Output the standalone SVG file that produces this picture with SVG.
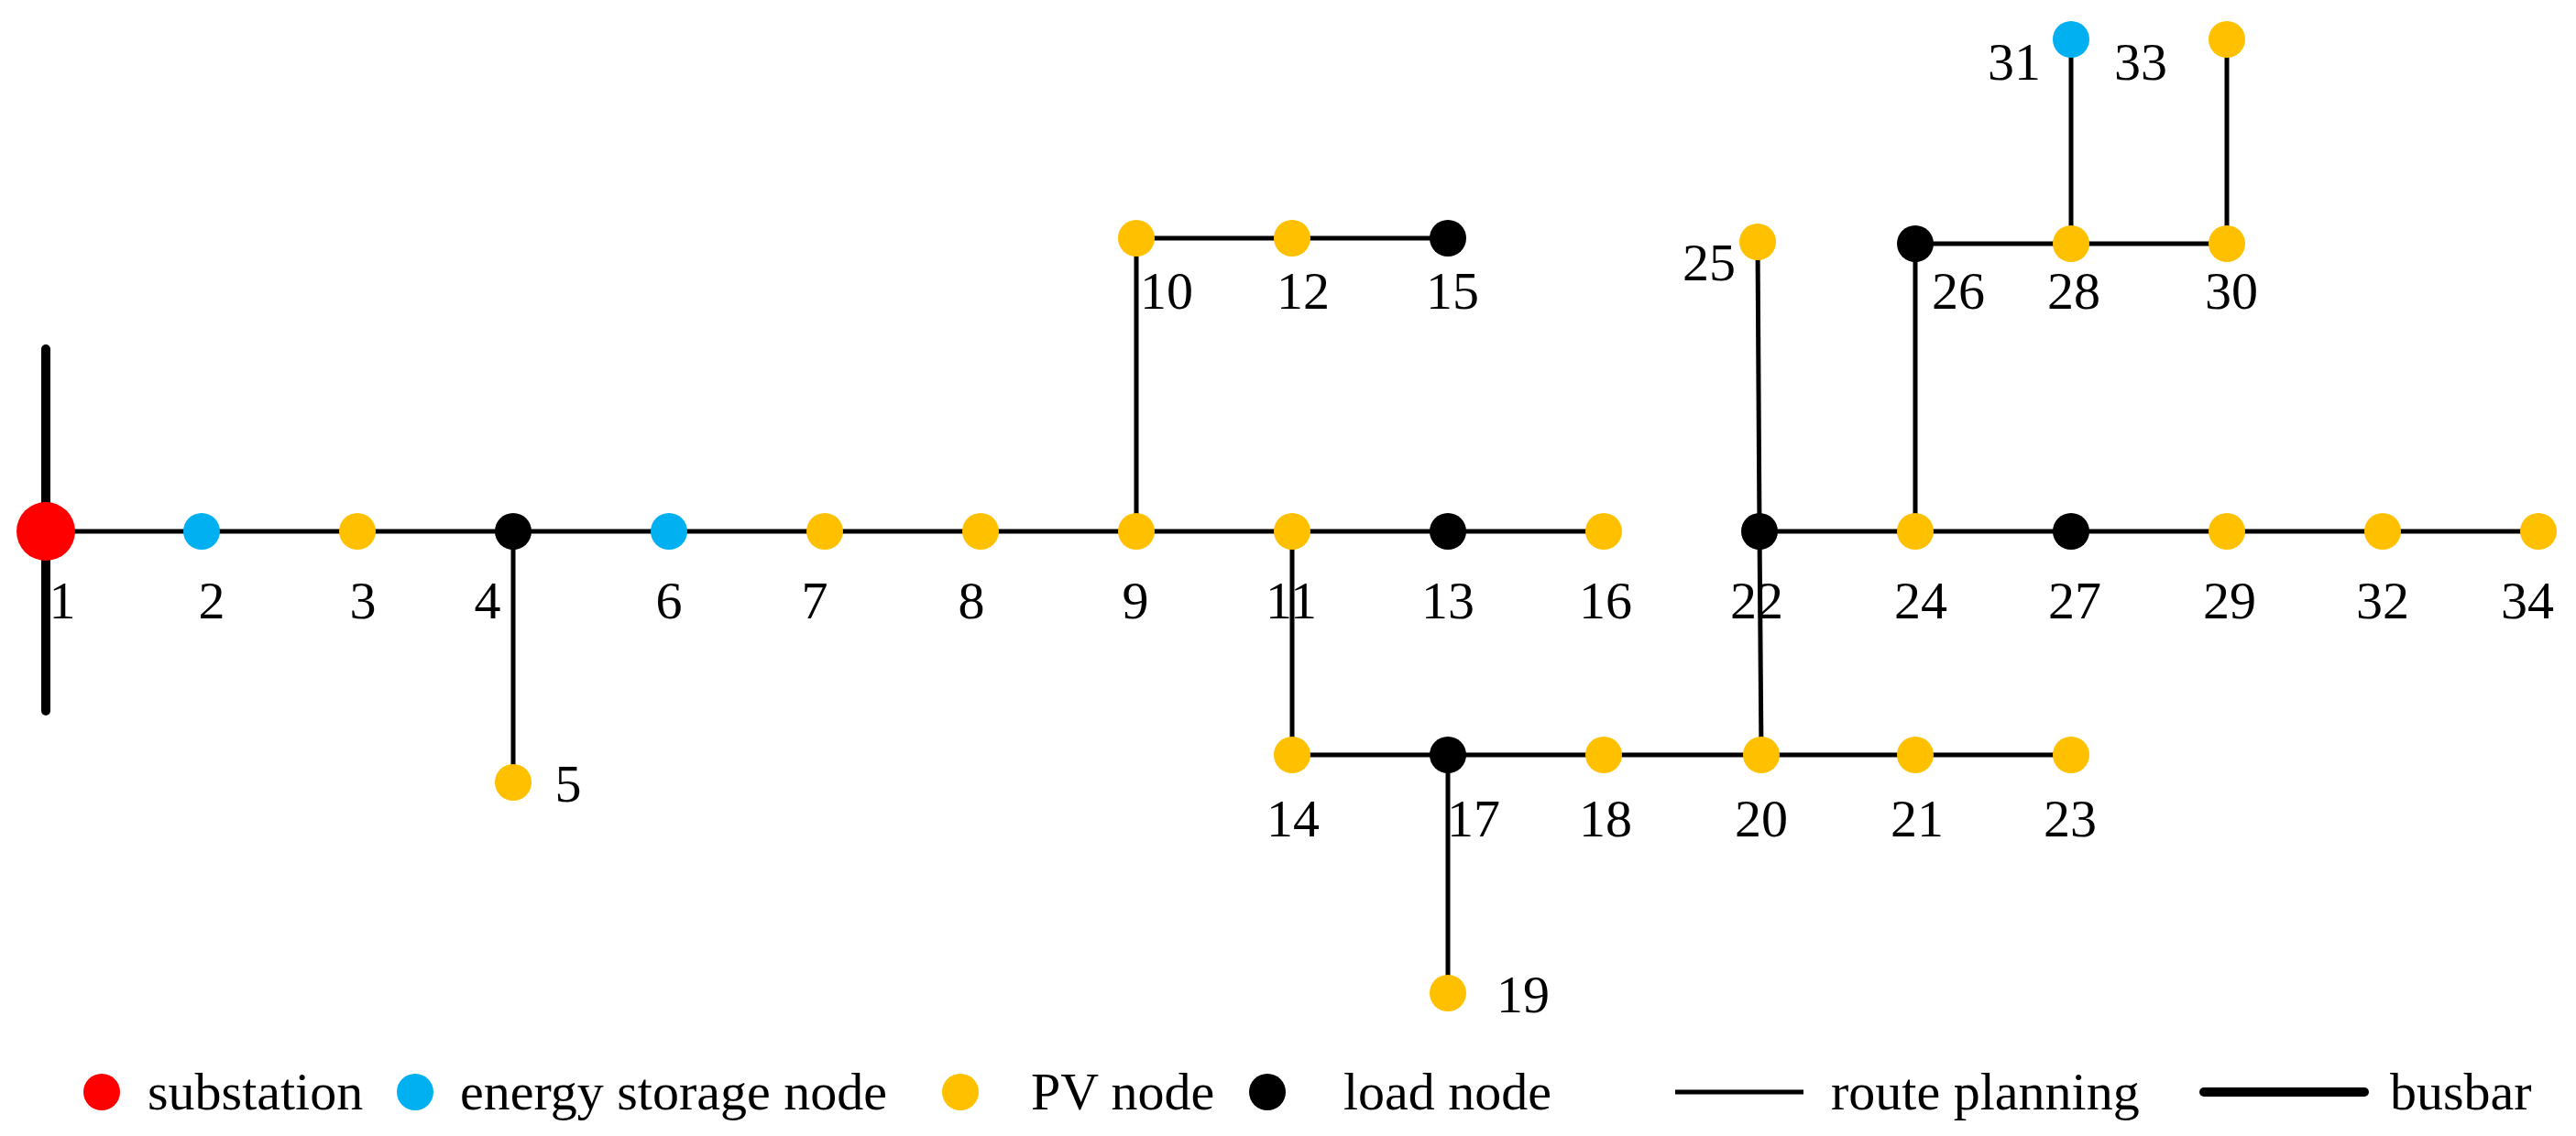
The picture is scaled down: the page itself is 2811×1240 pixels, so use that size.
<svg xmlns="http://www.w3.org/2000/svg" width="2811" height="1240" viewBox="0 0 2811 1240">
<style>
.l{stroke:#000;stroke-width:5;fill:none}
.b{stroke:#000;stroke-width:10;stroke-linecap:round}
.s{fill:#FF0000}.e{fill:#00B0F0}.p{fill:#FFC000}.d{fill:#000}
text{font-family:"Liberation Serif",serif;font-size:58px;fill:#000;text-anchor:middle}
.lg{text-anchor:start}
</style>
<rect width="2811" height="1240" fill="#fff"/>
<g id="connectors">
<line class="b" x1="50" y1="381" x2="50" y2="776"/>
<line class="l" x1="50" y1="580" x2="1750" y2="580"/>
<line class="l" x1="1920" y1="580" x2="2770" y2="580"/>
<line class="l" x1="560" y1="580" x2="560" y2="854"/>
<line class="l" x1="1240" y1="580" x2="1240" y2="260"/>
<line class="l" x1="1240" y1="260" x2="1580" y2="260"/>
<line class="l" x1="1410" y1="580" x2="1410" y2="824"/>
<line class="l" x1="1410" y1="824" x2="2260" y2="824"/>
<line class="l" x1="1580" y1="824" x2="1580" y2="1084"/>
<line class="l" x1="1918" y1="264" x2="1920" y2="580"/>
<line class="l" x1="1920" y1="580" x2="1922" y2="824"/>
<line class="l" x1="2090" y1="580" x2="2090" y2="266"/>
<line class="l" x1="2090" y1="266" x2="2430" y2="266"/>
<line class="l" x1="2260" y1="266" x2="2260" y2="43"/>
<line class="l" x1="2430" y1="266" x2="2430" y2="43"/>
</g>
<g id="n1"><circle class="s" cx="50" cy="580" r="32"/><text x="68" y="675">1</text></g>
<g id="n2"><circle class="e" cx="220" cy="580" r="20"/><text x="231" y="675">2</text></g>
<g id="n3"><circle class="p" cx="390" cy="580" r="20"/><text x="396" y="675">3</text></g>
<g id="n4"><circle class="d" cx="560" cy="580" r="20"/><text x="532" y="675">4</text></g>
<g id="n5"><circle class="p" cx="560" cy="854" r="20"/><text x="620" y="875">5</text></g>
<g id="n6"><circle class="e" cx="730" cy="580" r="20"/><text x="730" y="675">6</text></g>
<g id="n7"><circle class="p" cx="900" cy="580" r="20"/><text x="889" y="675">7</text></g>
<g id="n8"><circle class="p" cx="1070" cy="580" r="20"/><text x="1060" y="675">8</text></g>
<g id="n9"><circle class="p" cx="1240" cy="580" r="20"/><text x="1239" y="675">9</text></g>
<g id="n10"><circle class="p" cx="1240" cy="260" r="20"/><text x="1273" y="337">10</text></g>
<g id="n11"><circle class="p" cx="1410" cy="580" r="20"/><text x="1409" y="675">11</text></g>
<g id="n12"><circle class="p" cx="1410" cy="260" r="20"/><text x="1422" y="337">12</text></g>
<g id="n13"><circle class="d" cx="1580" cy="580" r="20"/><text x="1580" y="675">13</text></g>
<g id="n14"><circle class="p" cx="1410" cy="824" r="20"/><text x="1411" y="913">14</text></g>
<g id="n15"><circle class="d" cx="1580" cy="260" r="20"/><text x="1585" y="337">15</text></g>
<g id="n16"><circle class="p" cx="1750" cy="580" r="20"/><text x="1752" y="675">16</text></g>
<g id="n17"><circle class="d" cx="1580" cy="824" r="20"/><text x="1608" y="913">17</text></g>
<g id="n18"><circle class="p" cx="1750" cy="824" r="20"/><text x="1752" y="913">18</text></g>
<g id="n19"><circle class="p" cx="1580" cy="1084" r="20"/><text x="1662" y="1105">19</text></g>
<g id="n20"><circle class="p" cx="1922" cy="824" r="20"/><text x="1922" y="913">20</text></g>
<g id="n21"><circle class="p" cx="2090" cy="824" r="20"/><text x="2092" y="913">21</text></g>
<g id="n22"><circle class="d" cx="1920" cy="580" r="20"/><text x="1917" y="675">22</text></g>
<g id="n23"><circle class="p" cx="2260" cy="824" r="20"/><text x="2259" y="913">23</text></g>
<g id="n24"><circle class="p" cx="2090" cy="580" r="20"/><text x="2096" y="675">24</text></g>
<g id="n25"><circle class="p" cx="1918" cy="264" r="20"/><text x="1865" y="306">25</text></g>
<g id="n26"><circle class="d" cx="2090" cy="266" r="20"/><text x="2137" y="337">26</text></g>
<g id="n27"><circle class="d" cx="2260" cy="580" r="20"/><text x="2264" y="675">27</text></g>
<g id="n28"><circle class="p" cx="2260" cy="266" r="20"/><text x="2263" y="337">28</text></g>
<g id="n29"><circle class="p" cx="2430" cy="580" r="20"/><text x="2433" y="675">29</text></g>
<g id="n30"><circle class="p" cx="2430" cy="266" r="20"/><text x="2435" y="337">30</text></g>
<g id="n31"><circle class="e" cx="2260" cy="43" r="20"/><text x="2198" y="87">31</text></g>
<g id="n32"><circle class="p" cx="2600" cy="580" r="20"/><text x="2600" y="675">32</text></g>
<g id="n33"><circle class="p" cx="2430" cy="43" r="20"/><text x="2336" y="87">33</text></g>
<g id="n34"><circle class="p" cx="2770" cy="580" r="20"/><text x="2758" y="675">34</text></g>
<g id="legend">
<circle class="s" cx="111" cy="1192" r="20"/><text class="lg" x="161" y="1211">substation</text>
<circle class="e" cx="453" cy="1192" r="20"/><text class="lg" x="502" y="1211">energy storage node</text>
<circle class="p" cx="1048" cy="1192" r="20"/><text class="lg" x="1125" y="1211">PV node</text>
<circle class="d" cx="1383" cy="1192" r="20"/><text class="lg" x="1466" y="1211">load node</text>
<line class="l" x1="1828" y1="1192" x2="1968" y2="1192"/><text class="lg" x="1998" y="1211">route planning</text>
<line class="b" x1="2405" y1="1192" x2="2580" y2="1192"/><text class="lg" x="2608" y="1211">busbar</text>
</g>
</svg>
